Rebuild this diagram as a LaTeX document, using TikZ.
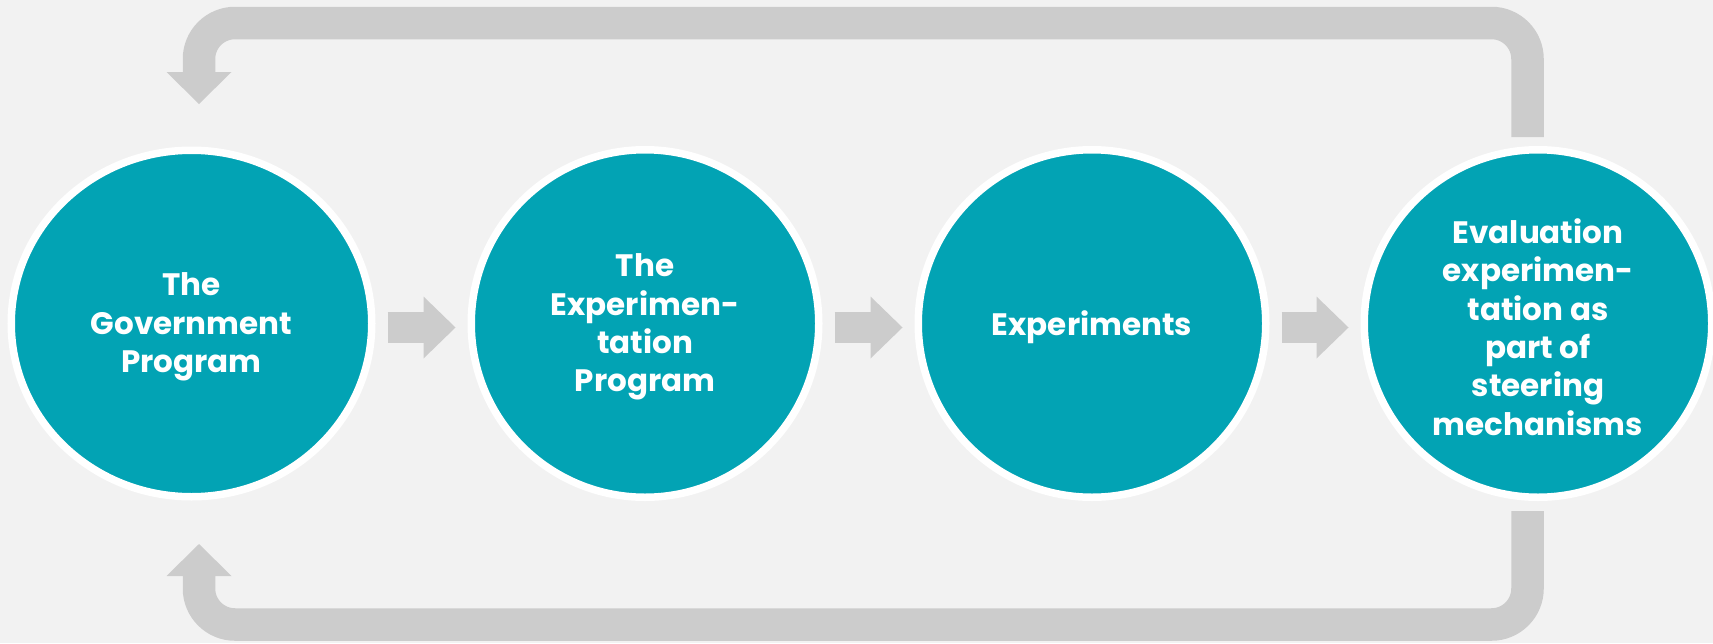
\documentclass[tikz,border=0pt]{standalone}
\usepackage{fontspec}
\setmainfont{Poppins}
\usepackage{xcolor}
\usetikzlibrary{calc, arrows.meta, shapes.geometric}

\definecolor{bggray}{HTML}{F2F2F2}
\definecolor{arrowgray}{HTML}{CCCCCC}
\definecolor{stepteal}{HTML}{02A3B4}

\begin{document}
\begin{tikzpicture}[x=0.5pt, y=-0.5pt,
		stage/.style={ellipse, fill=stepteal, draw=white, line width=3.75pt, inner sep=0pt,
			minimum width=173.75pt, minimum height=173.75pt},
		stagetext/.style={align=center, text=white, font=\bfseries\fontsize{15.5}{19.2}\selectfont},
		stepflow/.style={arrowgray, line width=15.5pt, shorten <=6pt, shorten >=6pt,
			-{Triangle[length=16pt, width=31pt, line width=0pt]}},
		backloop/.style={arrowgray, line width=16.25pt, rounded corners=18pt,
			-{Triangle[length=16pt, width=32.5pt, line width=0pt]}}]
		\def\cy{323.5};
		\def\ty{327};
		
		\useasboundingbox (0,0) rectangle (1713,643);
		\fill[bggray] (0,0) rectangle (1713,643);
		
		\node[stage, minimum width=180.25pt, minimum height=173.25pt] (gov) at (191.5,\cy) {};
		\node[stage] (prog) at (645,\cy) {};
		\node[stage] (exps) at (1092,\cy) {};
		\node[stage] (eval) at (1538,\cy) {};
		
		\node[stagetext] (govtext) at (191.5,\ty) {The\\Government\\Program};
		\node[stagetext] (progtext) at (645,\ty) {The\\Experimen-\\tation\\Program};
		\node[stagetext] (exptext) at (1092,\ty) {Experiments};
		\node[stagetext] (evaltext) at (1538,\ty) {Evaluation\\experimen-\\tation as\\part of\\steering\\mechanisms};
		
		\draw[stepflow] ([yshift=-2pt]gov.east) -- ([yshift=-2pt]prog.west);
		\draw[stepflow] ([yshift=-2pt]prog.east) -- ([yshift=-2pt]exps.west);
		\draw[stepflow] ([yshift=-2pt]exps.east) -- ([yshift=-2pt]eval.west);
		
		\coordinate (topleft) at (199,23);
		\coordinate (botleft) at (199,624.5);
		
		\draw[backloop] ([xshift=-5.25pt, yshift=4.5pt]eval.north) |- (topleft) -- ([xshift=3.75pt, yshift=21.25pt]gov.north);
		\draw[backloop] ([xshift=-5.25pt, yshift=-5pt]eval.south) |- (botleft) -- ([xshift=3.75pt, yshift=-21.75pt]gov.south);
	\end{tikzpicture}
\end{document}
